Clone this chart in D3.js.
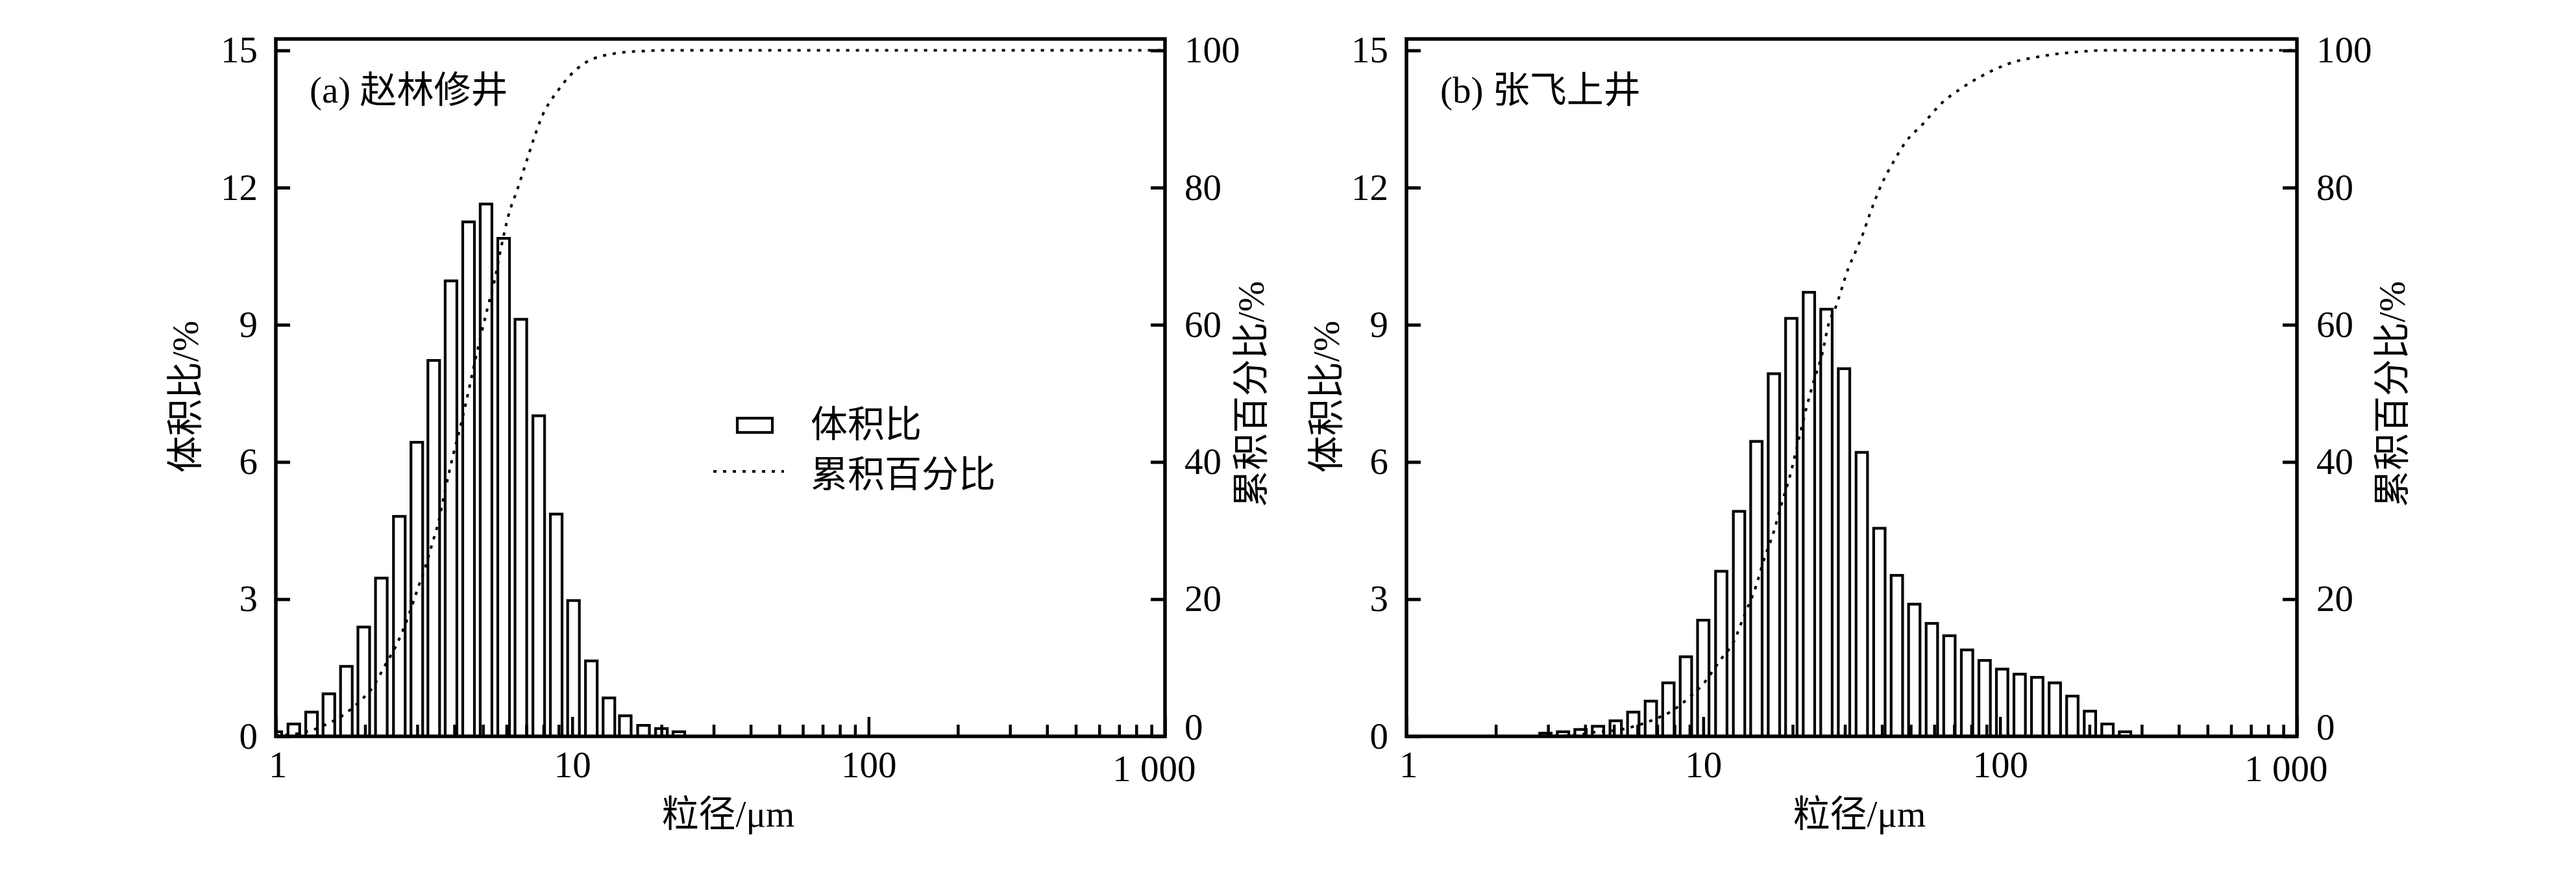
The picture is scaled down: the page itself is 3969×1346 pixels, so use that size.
<!DOCTYPE html>
<html><head><meta charset="utf-8">
<script src="https://cdn.jsdelivr.net/npm/d3@7"></script>
<style>
body{margin:0;background:#fff}
text{font-family:"Liberation Serif","Times New Roman","Noto Sans CJK SC",serif;fill:#000}
</style>
</head><body>
<svg id="c" width="3969" height="1346" xmlns="http://www.w3.org/2000/svg"></svg>
<script>
// ---------------- data ----------------
const panelLabels = ["(a) 赵林修井", "(b) 张飞上井"];

// panel (a): particle size (μm) and volume fraction (%)
const sizesA  = [1.0, 1.15, 1.32, 1.51, 1.73, 1.98, 2.27, 2.61, 2.99, 3.41, 3.90, 4.47, 5.12, 5.87, 6.71, 7.71, 8.83, 10.1, 11.6, 13.3, 15.1, 17.4, 20.0, 22.9];
const volumeA = [0.10, 0.27, 0.53, 0.93, 1.53, 2.39, 3.46, 4.81, 6.43, 8.22, 9.96, 11.25, 11.64, 10.89, 9.12, 7.01, 4.86, 2.97, 1.65, 0.84, 0.45, 0.24, 0.17, 0.10];
// panel (a): cumulative curve
const cumSizesA = [1.0, 1.3, 1.48, 1.7, 1.93, 2.11, 2.34, 2.57, 2.81, 3.02, 3.19, 3.37, 3.54, 3.74, 3.96, 4.18, 4.40, 4.64, 4.91, 5.17, 5.46, 5.77, 6.09, 6.55, 7.03, 7.54, 7.81, 9.0, 10.8, 13.7, 17.3, 20.0, 1000];
const cumA      = [0.1, 0.8, 1.75, 3.2, 5.2, 7.0, 10.4, 13.6, 17.7, 21.7, 24.6, 28.1, 31.3, 36.2, 40.9, 44.9, 49.0, 53.6, 58.3, 62.3, 66.3, 71.5, 75.9, 79.9, 84.0, 88.0, 89.8, 94.3, 97.9, 99.5, 99.9, 100, 100];

// panel (b)
const sizesB  = [2.94, 3.37, 3.86, 4.42, 5.07, 5.81, 6.66, 7.63, 8.74, 10.0, 11.5, 13.2, 15.1, 17.3, 19.8, 22.7, 26.0, 29.8, 34.2, 39.2, 44.9, 51.4, 58.9, 67.5, 77.4, 88.7, 101.6, 116.4, 133.4, 152.9, 175.2, 200.8, 230.1, 263.7];
const volumeB = [0.07, 0.10, 0.15, 0.22, 0.34, 0.53, 0.77, 1.17, 1.74, 2.54, 3.61, 4.92, 6.45, 7.93, 9.14, 9.71, 9.34, 8.04, 6.21, 4.55, 3.52, 2.89, 2.47, 2.20, 1.89, 1.66, 1.47, 1.36, 1.29, 1.17, 0.88, 0.55, 0.27, 0.10];
const cumSizesB = [2.9, 3.4, 3.9, 4.41, 5.14, 6.0, 6.86, 7.84, 8.98, 9.98, 11.4, 12.7, 13.7, 15.0, 16.0, 17.3, 18.3, 19.6, 21.0, 22.2, 23.5, 25.2, 26.4, 28.0, 30.8, 32.7, 34.6, 36.3, 39.9, 43.8, 48.0, 55.3, 63.5, 73.0, 87.9, 106, 140, 185, 225, 1000];
const cumB      = [0, 0.1, 0.3, 0.66, 0.9, 1.6, 2.5, 3.7, 5.7, 7.6, 11.1, 13.9, 17.5, 21.7, 25.7, 29.9, 33.7, 38.0, 43.4, 47.7, 51.6, 55.9, 60.0, 62.7, 68.2, 70.8, 73.4, 76.0, 80.5, 83.8, 86.6, 89.4, 92.3, 94.3, 96.4, 98.0, 99.2, 99.8, 100, 100];

const xTickValues = [1, 10, 100, 1000];
const xTickLabels = ["1", "10", "100", "1 000"];
const yLeftTicks  = [0, 3, 6, 9, 12, 15];
const yRightTicks = [0, 20, 40, 60, 80, 100];
const legendLabels = ["体积比", "累积百分比"];
const xTitle = "粒径/μm";
const yLeftTitle = "体积比/%";
const yRightTitle = "累积百分比/%";

// ---------------- layout ----------------
const TOP = 60, BOT = 1134;
const FS = 57;
const panels = [
  {x0: 425,  x1: 1795, sizes: sizesA, vals: volumeA, cs: cumSizesA, cv: cumA, label: panelLabels[0], legend: true,  lt: 140, rt: 132},
  {x0: 2167, x1: 3539, sizes: sizesB, vals: volumeB, cs: cumSizesB, cv: cumB, label: panelLabels[1], legend: false, lt: 124, rt: 146}
];

const svg = d3.select("#c");
svg.append("rect").attr("width", 3969).attr("height", 1346).attr("fill", "#fff");

panels.forEach((p, i) => {
  const g = svg.append("g");
  const x = d3.scaleLog().domain([1, 1000]).range([p.x0, p.x1]);
  const yL = d3.scaleLinear().domain([0, 15.25]).range([BOT, TOP]);
  const yR = d3.scaleLinear().domain([0, 15.25 / 15 * 100]).range([BOT, TOP]);

  const clipId = "clip" + i;
  svg.append("clipPath").attr("id", clipId).append("rect")
    .attr("x", p.x0).attr("y", TOP).attr("width", p.x1 - p.x0).attr("height", BOT - TOP);

  // bars
  const step = x(p.sizes[1]) - x(p.sizes[0]);
  const bw = step * 0.65;
  g.append("g").attr("clip-path", `url(#${clipId})`)
    .selectAll("rect").data(p.sizes).join("rect")
    .attr("x", (d) => x(d) - bw / 2)
    .attr("y", (d, k) => yL(p.vals[k]))
    .attr("width", bw)
    .attr("height", (d, k) => BOT - yL(p.vals[k]))
    .attr("fill", "#fff").attr("stroke", "#000").attr("stroke-width", 4.2);

  // minor x ticks
  const minor = x.ticks().filter(v => !xTickValues.includes(v));
  const gMinor = g.append("g").attr("transform", `translate(0,${BOT})`)
    .call(d3.axisBottom(x).tickValues(minor).tickSize(-18).tickFormat(""));
  gMinor.select(".domain").remove();
  gMinor.selectAll("line").attr("stroke-width", 4.5);

  // major x ticks
  const gx = g.append("g").attr("transform", `translate(0,${BOT})`)
    .call(d3.axisBottom(x).tickValues(xTickValues).tickSize(-30).tickPadding(23)
      .tickFormat((d, k) => xTickLabels[k]));
  gx.select(".domain").remove();
  gx.selectAll("line").attr("stroke-width", 4.5);
  gx.attr("font-size", FS).attr("font-family", null);
  const lastX = xTickLabels.length - 1;
  gx.selectAll("text")
    .attr("dx", (d, k) => k === lastX ? "-0.3em" : (k === 0 ? "0.05em" : null))
    .attr("dy", (d, k) => k === lastX ? "0.8em" : "0.71em");

  // left y axis
  const gy = g.append("g").attr("transform", `translate(${p.x0},0)`)
    .call(d3.axisLeft(yL).tickValues(yLeftTicks).tickSize(-22).tickPadding(28));
  gy.select(".domain").remove();
  gy.selectAll("line").attr("stroke-width", 5);
  gy.attr("font-size", FS).attr("font-family", null);

  // right y axis
  const gyr = g.append("g").attr("transform", `translate(${p.x1},0)`)
    .call(d3.axisRight(yR).tickValues(yRightTicks).tickSize(-22).tickPadding(30));
  gyr.select(".domain").remove();
  gyr.selectAll("line").attr("stroke-width", 5);
  gyr.attr("font-size", FS).attr("font-family", null);
  gyr.selectAll("text").attr("dy", (d) => d === 0 ? "0.08em" : "0.32em");

  // cumulative curve
  const line = d3.line().x((d) => x(d)).y((d, k) => yR(p.cv[k])).curve(d3.curveMonotoneX);
  g.append("path").attr("d", line(p.cs))
    .attr("clip-path", `url(#${clipId})`)
    .attr("fill", "none").attr("stroke", "#000").attr("stroke-width", 4)
    .attr("stroke-dasharray", "5,10");

  // frame
  g.append("rect").attr("x", p.x0).attr("y", TOP).attr("width", p.x1 - p.x0).attr("height", BOT - TOP)
    .attr("fill", "none").attr("stroke", "#000").attr("stroke-width", 5.5);

  // panel label
  g.append("text").attr("x", p.x0 + 52).attr("y", 158).attr("font-size", FS).text(p.label);

  // axis titles
  g.append("text").attr("x", (p.x0 + p.x1) / 2 + 12).attr("y", 1273)
    .attr("text-anchor", "middle").attr("font-size", FS).text(xTitle);
  g.append("text").attr("transform", `translate(${p.x0 - p.lt},611) rotate(-90)`)
    .attr("text-anchor", "middle").attr("dominant-baseline", "central").attr("font-size", FS).text(yLeftTitle);
  g.append("text").attr("transform", `translate(${p.x1 + p.rt},607) rotate(-90)`)
    .attr("text-anchor", "middle").attr("dominant-baseline", "central").attr("font-size", FS).text(yRightTitle);

  // legend
  if (p.legend) {
    const lg = g.append("g");
    lg.append("rect").attr("x", p.x0 + 711).attr("y", 644).attr("width", 54).attr("height", 22)
      .attr("fill", "#fff").attr("stroke", "#000").attr("stroke-width", 4.2);
    lg.append("line").attr("x1", p.x0 + 674).attr("x2", p.x0 + 783).attr("y1", 726).attr("y2", 726)
      .attr("stroke", "#000").attr("stroke-width", 4).attr("stroke-dasharray", "5,10");
    lg.selectAll("text").data(legendLabels).join("text")
      .attr("x", p.x0 + 824).attr("y", (d, k) => 653 + k * 77)
      .attr("dominant-baseline", "central").attr("font-size", FS).text(d => d);
  }
});
</script>
</body></html>
